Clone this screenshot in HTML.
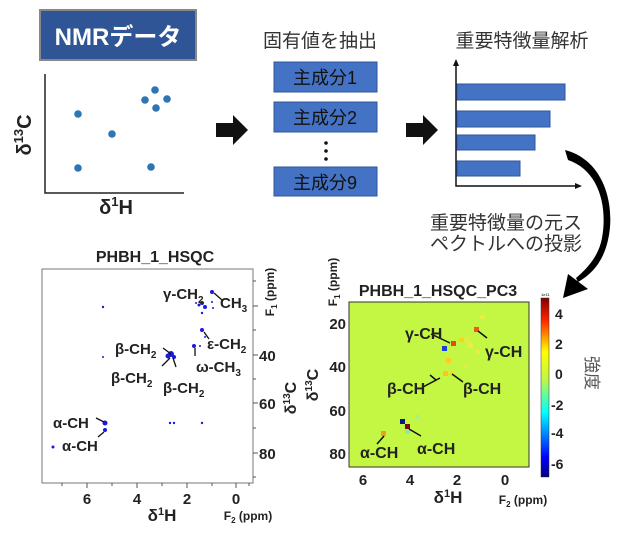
<!DOCTYPE html>
<html><head><meta charset="utf-8"><style>
html,body{margin:0;padding:0;background:#fff;width:620px;height:534px;overflow:hidden}
svg{display:block}
.b{font-family:"Liberation Sans",sans-serif;font-weight:bold;fill:#222}
.j{font-family:"Liberation Sans","Noto Sans CJK JP",sans-serif;fill:#333}
</style></head><body>
<svg width="620" height="534" viewBox="0 0 620 534" xmlns="http://www.w3.org/2000/svg">
<!-- NMR box -->
<rect x="40" y="10" width="156" height="50" fill="#2f5597" stroke="#888" stroke-width="2"/>
<text x="118" y="45" text-anchor="middle" font-size="24" font-weight="bold" fill="#fff" font-family="Liberation Sans,Noto Sans CJK JP,sans-serif">NMRデータ</text>
<!-- scatter -->
<path d="M45 74 V193 H184" stroke="#222" stroke-width="1.5" fill="none"/>
<g fill="#2e75b6">
<circle cx="78" cy="114" r="3.8"/><circle cx="112" cy="134" r="3.8"/><circle cx="78" cy="168" r="3.8"/><circle cx="151" cy="167" r="3.8"/>
<circle cx="155" cy="90" r="3.8"/><circle cx="145" cy="100" r="3.8"/><circle cx="167" cy="99" r="3.8"/><circle cx="156" cy="108" r="3.8"/>
</g>
<text class="b" x="0" y="0" font-size="20" transform="translate(31,135) rotate(-90)" text-anchor="middle">δ<tspan font-size="13" dy="-8">13</tspan><tspan dy="8">C</tspan></text>
<text class="b" x="116" y="214" font-size="20" text-anchor="middle">δ<tspan font-size="13" dy="-8">1</tspan><tspan dy="8">H</tspan></text>
<!-- arrows -->
<path d="M216 123 H233 V115 L248 130 L233 145 V137 H216 Z" fill="#111"/>
<path d="M406 123 H423 V115 L438 130 L423 145 V137 H406 Z" fill="#111"/>
<!-- PCs -->
<text class="j" x="320" y="47" font-size="19" text-anchor="middle">固有値を抽出</text>
<g fill="#4472c4" stroke="#2f5597" stroke-width="1">
<rect x="274" y="62" width="103" height="30"/><rect x="274" y="102" width="103" height="30"/><rect x="274" y="167" width="103" height="29"/>
</g>
<g class="j" font-size="18" text-anchor="middle" style="fill:#111">
<text x="325" y="84">主成分1</text><text x="325" y="124">主成分2</text><text x="325" y="189">主成分9</text>
</g>
<g fill="#111"><circle cx="326" cy="143" r="1.8"/><circle cx="326" cy="151" r="1.8"/><circle cx="326" cy="159" r="1.8"/></g>
<!-- bar chart -->
<text class="j" x="522" y="47" font-size="19" text-anchor="middle">重要特徴量解析</text>
<path d="M456 64 V186 H576" stroke="#111" stroke-width="1.5" fill="none"/>
<path d="M456 59 L453 66 H459 Z M582 186 L575 183 V189 Z" fill="#111"/>
<g fill="#4472c4" stroke="#2f5597">
<rect x="457" y="84" width="108" height="16"/><rect x="457" y="111" width="93" height="16"/><rect x="457" y="135" width="78" height="15"/><rect x="457" y="161" width="63" height="15"/>
</g>
<text class="j" x="506" y="229" font-size="19" text-anchor="middle">重要特徴量の元ス</text>
<text class="j" x="506" y="250" font-size="19" text-anchor="middle">ペクトルへの投影</text>
<!-- curved arrow -->
<path d="M565 150 C604 160 616 205 608 240 C603 262 592 274 578 282 L576 278 C588 268 599 255 602 238 C608 205 598 170 568 160 Z" fill="#000"/>
<path d="M563 298 L568 274 L588 289 Z" fill="#000"/>

<!-- LEFT HSQC -->
<text class="b" x="155" y="262" font-size="16" text-anchor="middle">PHBH_1_HSQC</text>
<rect x="42" y="269" width="211" height="214" fill="#fff" stroke="#777" stroke-width="1"/>
<g stroke="#555" stroke-width="1">
<path d="M87 483v5M137 483v5M187 483v5M236 483v5M62 483v3M112 483v3M162 483v3M212 483v3M249 483v3"/>
<path d="M253 306h5M253 355h5M253 403h5M253 453h5M253 281h3M253 330h3M253 379h3M253 428h3M253 477h3"/>
</g>
<g class="b" font-size="15" text-anchor="middle">
<text x="87" y="504">6</text><text x="137" y="504">4</text><text x="187" y="504">2</text><text x="236" y="504">0</text>
</g>
<g class="b" font-size="15"><text x="259" y="361">40</text><text x="259" y="409">60</text><text x="259" y="459">80</text></g>
<text class="b" font-size="12" transform="translate(274,292) rotate(-90)" text-anchor="middle">F<tspan font-size="8" dy="3">1</tspan><tspan dy="-3"> (ppm)</tspan></text>
<text class="b" font-size="16" transform="translate(296,398) rotate(-90)" text-anchor="middle">δ<tspan font-size="10" dy="-6">13</tspan><tspan dy="6">C</tspan></text>
<text class="b" x="162" y="521" font-size="17" text-anchor="middle">δ<tspan font-size="11" dy="-6">1</tspan><tspan dy="6">H</tspan></text>
<text class="b" x="248" y="520" font-size="12" text-anchor="middle">F<tspan font-size="8" dy="3">2</tspan><tspan dy="-3"> (ppm)</tspan></text>
<g fill="#1a1adb">
<circle cx="103" cy="307" r="1.2"/><circle cx="103" cy="357" r="1"/>
<circle cx="202" cy="303" r="2"/><circle cx="205" cy="307" r="2"/><circle cx="199" cy="305" r="1.5"/><circle cx="202" cy="313" r="1.2"/><circle cx="196" cy="303" r="1"/><circle cx="212" cy="302" r="1"/><circle cx="213" cy="308" r="1"/>
<circle cx="212" cy="292" r="2"/><circle cx="202" cy="330" r="2"/><circle cx="205" cy="337" r="1"/><circle cx="194" cy="346" r="2"/><circle cx="200" cy="346" r="1"/>
<circle cx="171" cy="354" r="3"/><circle cx="168" cy="356" r="2.5"/><circle cx="174" cy="357" r="2"/>
<circle cx="105" cy="423" r="2.5"/><circle cx="105" cy="430" r="2"/><circle cx="53" cy="447" r="1.5"/>
<circle cx="170" cy="423" r="1.2"/><circle cx="174" cy="423" r="1.2"/><circle cx="202" cy="423" r="1.2"/>
</g>
<g stroke="#111" stroke-width="1.3">
<path d="M214 293 L222 300M163 348 L171 354M170 358 L162 366M173 358 L176 367M204 332 L209 339M195 348 L195 356M96 418 L104 422M104 432 L98 437"/>
</g>
<g class="b" font-size="15">
<text x="163" y="299">γ-CH<tspan font-size="10" dy="4">2</tspan></text>
<text x="220" y="308">CH<tspan font-size="10" dy="4">3</tspan></text>
<text x="207" y="349">ε-CH<tspan font-size="10" dy="4">2</tspan></text>
<text x="196" y="372">ω-CH<tspan font-size="10" dy="4">3</tspan></text>
<text x="115" y="354">β-CH<tspan font-size="10" dy="4">2</tspan></text>
<text x="111" y="383">β-CH<tspan font-size="10" dy="4">2</tspan></text>
<text x="163" y="393">β-CH<tspan font-size="10" dy="4">2</tspan></text>
<text x="53" y="428">α-CH</text>
<text x="62" y="451">α-CH</text>
</g>

<!-- RIGHT PC3 -->
<text class="b" x="438" y="296" font-size="16" text-anchor="middle">PHBH_1_HSQC_PC3</text>
<rect x="349" y="302" width="180" height="165" fill="#c3f744" stroke="#333" stroke-width="1"/>
<g class="b" font-size="15" text-anchor="end">
<text x="346" y="329">20</text><text x="346" y="372">40</text><text x="346" y="416">60</text><text x="346" y="459">80</text>
</g>
<g class="b" font-size="15" text-anchor="middle">
<text x="363" y="485">6</text><text x="410" y="485">4</text><text x="457" y="485">2</text><text x="505" y="485">0</text>
</g>
<text class="b" font-size="12" transform="translate(337,282) rotate(-90)" text-anchor="middle">F<tspan font-size="8" dy="3">1</tspan><tspan dy="-3"> (ppm)</tspan></text>
<text class="b" font-size="16" transform="translate(318,385) rotate(-90)" text-anchor="middle">δ<tspan font-size="10" dy="-6">13</tspan><tspan dy="6">C</tspan></text>
<text class="b" x="448" y="503" font-size="17" text-anchor="middle">δ<tspan font-size="11" dy="-6">1</tspan><tspan dy="6">H</tspan></text>
<text class="b" x="523" y="504" font-size="12" text-anchor="middle">F<tspan font-size="8" dy="3">2</tspan><tspan dy="-3"> (ppm)</tspan></text>
<g>
<rect x="480" y="315" width="5" height="4" fill="#e6f040"/>
<rect x="474" y="327" width="5" height="5" fill="#f05a10"/>
<rect x="459" y="338" width="5" height="4" fill="#ffd21a"/><rect x="465" y="338" width="5" height="5" fill="#f0e63c"/><rect x="468" y="343" width="5" height="5" fill="#e6f040"/><rect x="475" y="350" width="5" height="4" fill="#f0e840"/>
<rect x="451" y="341" width="5" height="5" fill="#e84a10"/>
<rect x="442" y="346" width="5" height="5" fill="#1a3ed8"/>
<rect x="446" y="358" width="5" height="5" fill="#ffcc22"/>
<rect x="443" y="371" width="5" height="5" fill="#ffc420"/><rect x="449" y="371" width="5" height="5" fill="#ffd820"/><rect x="464" y="364" width="4" height="4" fill="#d8f040"/>
<rect x="400" y="419" width="5" height="5" fill="#0a1a80"/>
<rect x="405" y="424" width="5" height="5" fill="#7a0a0a"/>
<rect x="405" y="430" width="5" height="4" fill="#8ee8a8"/>
<rect x="415" y="415" width="5" height="4" fill="#a8f080"/>
<rect x="381" y="431" width="5" height="5" fill="#f0a020"/>
</g>
<g stroke="#111" stroke-width="1.5">
<path d="M431 334 L450 343M478 331 L487 338M436 380 L430 375M440 378 L423 387M452 374 L463 382M384 436 L377 444M409 429 L421 436"/>
</g>
<g class="b" font-size="16">
<text x="405" y="339">γ-CH</text><text x="485" y="357">γ-CH</text>
<text x="387" y="394">β-CH</text><text x="463" y="394">β-CH</text>
<text x="360" y="458">α-CH</text><text x="417" y="454">α-CH</text>
</g>
<defs><linearGradient id="cb" x1="0" y1="1" x2="0" y2="0">
<stop offset="0" stop-color="#00007f"/><stop offset="0.11" stop-color="#0000ff"/><stop offset="0.36" stop-color="#00ffff"/><stop offset="0.55" stop-color="#c3f744"/><stop offset="0.7" stop-color="#ffff00"/><stop offset="0.88" stop-color="#ff2000"/><stop offset="1" stop-color="#7f0000"/>
</linearGradient></defs>
<rect x="541" y="298" width="8" height="179" fill="url(#cb)" stroke="#333" stroke-width="0.5"/>
<text x="541" y="296" font-size="4" font-family="Liberation Sans,sans-serif">1e11</text>
<g class="b" font-size="14">
<text x="555" y="319">4</text><text x="555" y="349">2</text><text x="555" y="379">0</text><text x="551" y="410">-2</text><text x="551" y="438">-4</text><text x="551" y="469">-6</text>
</g>
<text class="j" font-size="17" transform="translate(586,373) rotate(90)" text-anchor="middle" style="fill:#555">強度</text>
</svg>
</body></html>
